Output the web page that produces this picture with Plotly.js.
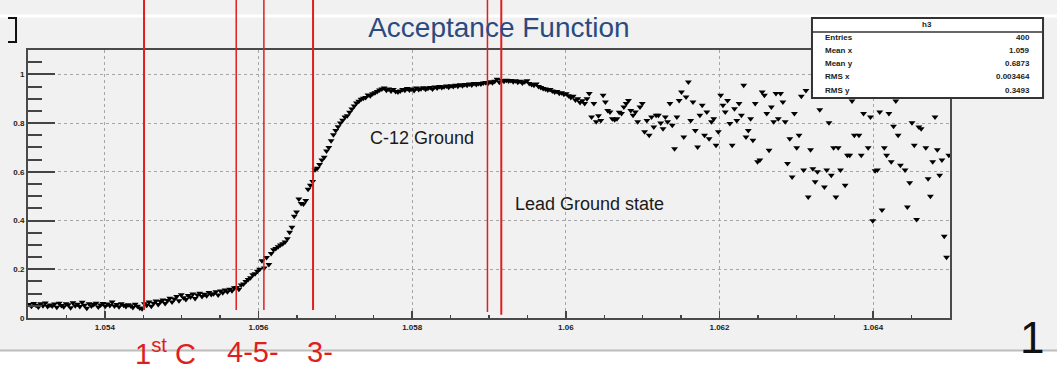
<!DOCTYPE html>
<html>
<head>
<meta charset="utf-8">
<script src="https://cdn.plot.ly/plotly-3.0.1.min.js"></script>
<style>html,body{margin:0;padding:0;background:#f1f1f1;}#chart{width:1057px;height:375px;}</style>
</head>
<body>
<div id="chart"></div>
<script>
// ---- data (histogram h3: 400 bins from 1.053 to 1.065) ----
const binStart = 1.053015;
const binWidth = 0.00003;

const flatRegion = [
  0.055,0.048,0.060,0.052,0.045,0.058,0.050,0.062,0.047,0.053,
  0.049,0.057,0.044,0.061,0.051,0.046,0.059,0.054,0.042,0.063,
  0.050,0.056,0.047,0.065,0.052,0.040,0.058,0.049,0.055,0.061,
  0.045,0.053,0.060,0.048,0.057,0.051,0.066,0.049,0.055,0.046,
  0.058,0.052,0.047,0.054,0.050,0.043,0.056,0.048,0.041,0.038
];
const slowRise = [
  0.058,0.052,0.066,0.048,0.061,0.070,0.055,0.068,0.074,0.060,
  0.072,0.081,0.066,0.078,0.088,0.071,0.095,0.083,0.076,0.092,
  0.086,0.099,0.080,0.094,0.102,0.088,0.097,0.091,0.105,0.096,
  0.100,0.108,0.094,0.111,0.104,0.115,0.108,0.118,0.112,0.124
];
const steepRise = [
  0.125,0.118,0.135,0.140,0.150,0.158,0.165,0.178,0.182,0.192,
  0.200,0.235,0.205,0.248,0.220,0.265,0.280,0.285,0.292,0.300,
  0.305,0.312,0.325,0.352,0.372,0.418,0.435,0.488,0.470,0.468,
  0.482,0.528,0.545,0.560
];
const upperRise = [
  0.608,0.615,0.630,0.648,0.660,0.685,0.700,0.728,0.752,0.770,
  0.785,0.800,0.812,0.825,0.830,0.845,0.858,0.870,0.882,0.890,
  0.898,0.902,0.905,0.915,0.912,0.920,0.925,0.930,0.936,0.940,
  0.944,0.935,0.940,0.932,0.938,0.930,0.928
];
const plateau = [
  0.932,0.938,0.935,0.942,0.936,0.940,0.934,0.944,0.938,0.941,
  0.945,0.939,0.943,0.946,0.940,0.948,0.944,0.950,0.946,0.949,
  0.952,0.947,0.953,0.950,0.955,0.951,0.957,0.953,0.958,0.955,
  0.960,0.956,0.962,0.958,0.963,0.960,0.965,0.967,0.962,0.970,
  0.966,0.972,0.980,0.968,0.975,0.972,0.976,0.973,0.975,0.970,
  0.974,0.968,0.972,0.965,0.970,0.974,0.962,0.958,0.955,0.960,
  0.950,0.946,0.942,0.940,0.936,0.938,0.932,0.928,0.930,0.922,
  0.925,0.918,0.920,0.912,0.905,0.910,0.895,0.900,0.885,0.892,
  0.880
];
const scatterTailA = [
  0.900,0.921,0.825,0.880,0.805,0.830,0.811,0.914,0.887,0.852,
  0.846,0.818,0.814,0.818,0.845,0.839,0.866,0.880,0.893,0.852,
  0.832,0.846,0.805,0.866,0.880,0.764,0.811,0.750,0.825,0.784,
  0.832,0.832,0.800,0.777,0.825,0.805,0.880,0.791,0.695,0.825,
  0.893,0.928,0.743,0.907,0.969,0.811,0.887,0.770,0.702,0.832,
  0.873,0.750,0.846,0.736,0.805,0.818,0.709,0.764,0.914,0.873,
  0.846,0.893,0.798,0.709,0.859,0.811,0.880,0.832,0.955,0.743,
  0.770,0.818,0.730,0.880,0.641,0.648,0.928,0.914,0.839,0.689
];
const scatterTailB = [
  0.866,0.805,0.921,0.818,0.921,0.887,0.805,0.634,0.736,0.579,
  0.839,0.699,0.750,0.910,0.607,0.934,0.497,0.691,0.613,0.559,
  0.600,0.855,0.940,0.538,0.607,0.801,0.586,0.699,0.497,0.699,
  0.607,0.925,0.545,0.668,0.668,0.891,0.750,0.945,0.750,0.668,
  0.839,0.930,0.699,0.825,0.399,0.604,0.607,0.846,0.443,0.699,
  0.668,0.839,0.641,0.787,0.891,0.750,0.627,0.950,0.607,0.456,
  0.555,0.801,0.709,0.404,0.784,0.777,0.935,0.699,0.572,0.500,
  0.641,0.825,0.691,0.586,0.648,0.336,0.249,0.668
];

const xTickVals = [1.054, 1.056, 1.058, 1.060, 1.062, 1.064];
const xTickText = ["1.054", "1.056", "1.058", "1.06", "1.062", "1.064"];
const yTickVals = [0, 0.2, 0.4, 0.6, 0.8, 1];
const yTickText = ["0", "0.2", "0.4", "0.6", "0.8", "1"];

// marker lines (energy levels)
const levelX = [1.05451, 1.05571, 1.05607, 1.05671, 1.05898, 1.05916];
const levelWidth = [2, 1.5, 1.5, 2, 1.5, 2];
const levelBottom = [0.030, 0.030, 0.030, 0.030, 0.022, 0.012];

const statLabels = ["Entries", "Mean x", "Mean y", "RMS x", "RMS y"];
const statValues = ["400", "1.059", "0.6873", "0.003464", "0.3493"];

const allValues = [].concat(flatRegion, slowRise, steepRise, upperRise, plateau, scatterTailA, scatterTailB);

// ---- drawing ----
const SANS = "Liberation Sans, Arial, sans-serif";
const BG = "#f1f1f1";
const RED = "#e01e1e";

const trace = {
  type: "scatter",
  mode: "markers",
  x0: binStart,
  dx: binWidth,
  y: allValues,
  marker: {symbol: "triangle-down", size: 6, color: "#000000", line: {width: 0}},
  hoverinfo: "x+y",
  showlegend: false
};

const shapes = [];
// slide background bands
shapes.push({type: "rect", xref: "paper", yref: "paper", x0: -0.05, x1: 1.2, y0: -0.123, y1: -0.25,
  fillcolor: "#ffffff", line: {width: 0}, layer: "below"});
shapes.push({type: "line", xref: "paper", yref: "paper", x0: -0.05, x1: 1.2, y0: -0.121, y1: -0.121,
  line: {color: "#bdbdbd", width: 2}, layer: "below"});
shapes.push({type: "line", xref: "paper", yref: "paper", x0: -0.05, x1: 1.2, y0: 1.127, y1: 1.127,
  line: {color: "#ffffff", width: 3}, layer: "below"});
// partial ROOT box at top-left
shapes.push({type: "path", xref: "paper", yref: "paper",
  path: "M -0.0217,1.1194 L -0.0130,1.1194 L -0.0130,1.0299 L -0.0217,1.0299",
  line: {color: "#111111", width: 2}, layer: "above"});
// red level lines
levelX.forEach((xv, i) => {
  shapes.push({type: "line", xref: "x", yref: "paper", x0: xv, x1: xv, y0: levelBottom[i], y1: 1.2,
    line: {color: RED, width: levelWidth[i]}, layer: "above"});
});
// stats box
shapes.push({type: "rect", xref: "paper", yref: "paper", x0: 0.8503, x1: 1.1009, y0: 0.8209, y1: 1.1194,
  fillcolor: "#ffffff", line: {color: "#333333", width: 2}, layer: "above"});
shapes.push({type: "line", xref: "paper", yref: "paper", x0: 0.8503, x1: 1.1009, y0: 1.0672, y1: 1.0672,
  line: {color: "#333333", width: 1.5}, layer: "above"});

const annotations = [];
annotations.push({text: "C-12 Ground", xref: "paper", yref: "paper", x: 0.3688, y: 0.6735,
  xanchor: "left", yanchor: "middle", showarrow: false, font: {family: SANS, size: 18, color: "#1a1a1a"}});
annotations.push({text: "Lead Ground state", xref: "paper", yref: "paper", x: 0.5260, y: 0.4254,
  xanchor: "left", yanchor: "middle", showarrow: false, font: {family: SANS, size: 18, color: "#1a1a1a"}});
annotations.push({text: "1<sup>st</sup> C", xref: "paper", yref: "paper", x: 0.1139, y: -0.128,
  xanchor: "left", yanchor: "middle", showarrow: false, font: {family: SANS, size: 29, color: RED}});
annotations.push({text: "4-5-", xref: "paper", yref: "paper", x: 0.2137, y: -0.128,
  xanchor: "left", yanchor: "middle", showarrow: false, font: {family: SANS, size: 29, color: RED}});
annotations.push({text: "3-", xref: "paper", yref: "paper", x: 0.3004, y: -0.128,
  xanchor: "left", yanchor: "middle", showarrow: false, font: {family: SANS, size: 29, color: RED}});
annotations.push({text: "1", xref: "paper", yref: "paper", x: 1.0889, y: -0.0709,
  xanchor: "center", yanchor: "middle", showarrow: false, font: {family: SANS, size: 44, color: "#111111"}});
annotations.push({text: "h3", xref: "paper", yref: "paper", x: 0.9751, y: 1.0933,
  xanchor: "center", yanchor: "middle", showarrow: false, font: {family: SANS, size: 8, color: "#222222", weight: "bold"}});
const rowY = [1.0448, 0.9963, 0.9478, 0.8993, 0.8507];
statLabels.forEach((lab, i) => {
  annotations.push({text: lab, xref: "paper", yref: "paper", x: 0.8623, y: rowY[i],
    xanchor: "left", yanchor: "middle", showarrow: false, font: {family: SANS, size: 8, color: "#222222", weight: "bold"}});
  annotations.push({text: statValues[i], xref: "paper", yref: "paper", x: 1.0889, y: rowY[i],
    xanchor: "right", yanchor: "middle", showarrow: false, font: {family: SANS, size: 8, color: "#222222", weight: "bold"}});
});

const layout = {
  width: 1057, height: 375, autosize: false,
  margin: {l: 28, r: 107, t: 50, b: 57},
  paper_bgcolor: BG, plot_bgcolor: BG,
  title: {text: "Acceptance Function", xref: "container", yref: "container", x: 0.472, y: 0.928,
    xanchor: "center", yanchor: "middle", font: {family: SANS, size: 28, color: "#2b4a7d"}},
  xaxis: {
    range: [1.053, 1.065], tickmode: "array", tickvals: xTickVals, ticktext: xTickText,
    ticks: "inside", ticklen: 7, tickwidth: 1.5, tickcolor: "#444444",
    minor: {dtick: 0.0005, tick0: 1.053, ticks: "inside", ticklen: 3, tickwidth: 1.2, tickcolor: "#444444", showgrid: false},
    showgrid: true, gridcolor: "#a6a6a6", griddash: "dot", gridwidth: 1,
    showline: true, mirror: true, linecolor: "#4a4a4a", linewidth: 2, zeroline: false,
    tickfont: {family: SANS, size: 8, color: "#222222", weight: "bold"}
  },
  yaxis: {
    range: [0, 1.1], tickmode: "array", tickvals: yTickVals, ticktext: yTickText,
    ticks: "inside", ticklen: 27, tickwidth: 2, tickcolor: "#444444",
    minor: {dtick: 0.05, tick0: 0, ticks: "inside", ticklen: 14, tickwidth: 2, tickcolor: "#444444", showgrid: false},
    showgrid: true, gridcolor: "#a6a6a6", griddash: "dot", gridwidth: 1,
    showline: true, mirror: true, linecolor: "#4a4a4a", linewidth: 2, zeroline: false,
    tickfont: {family: SANS, size: 8, color: "#222222", weight: "bold"}
  },
  shapes: shapes,
  annotations: annotations,
  showlegend: false
};

Plotly.newPlot("chart", [trace], layout, {displayModeBar: false, staticPlot: true});
</script>
</body>
</html>
